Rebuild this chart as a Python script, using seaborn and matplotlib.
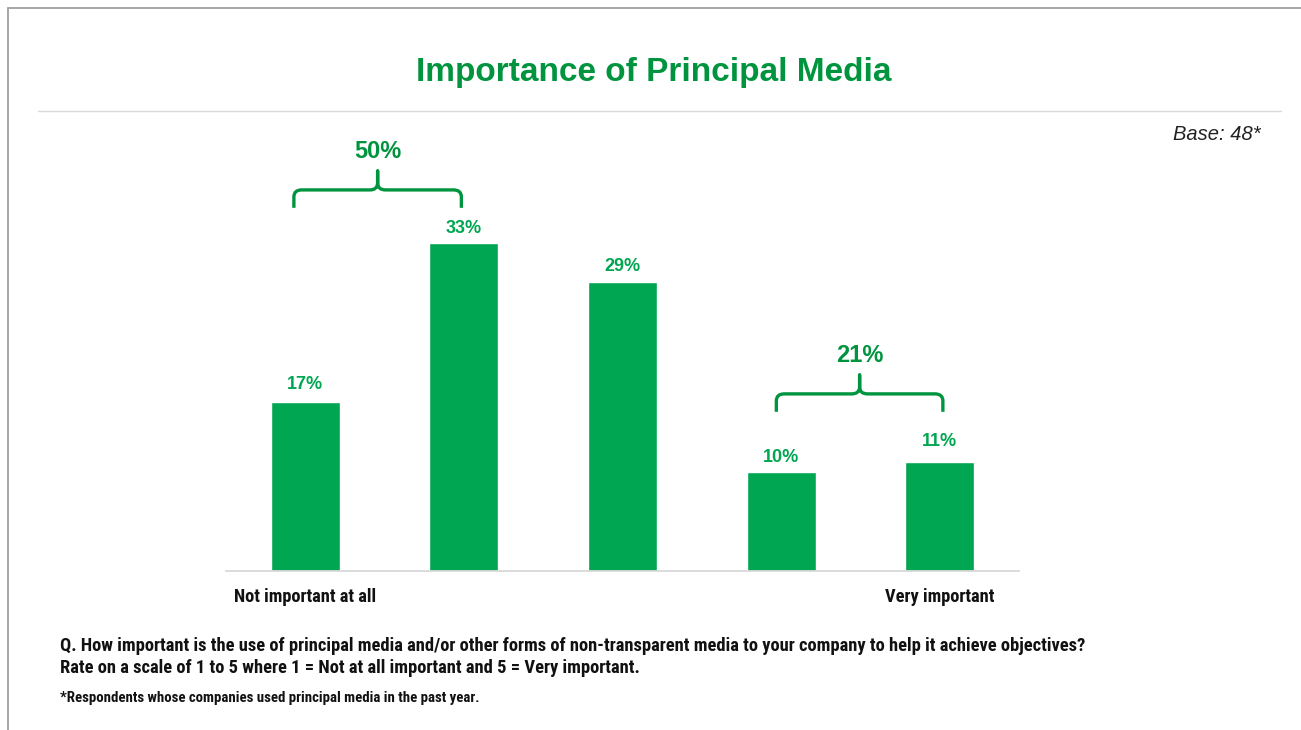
import matplotlib
matplotlib.use("Agg")
import matplotlib.pyplot as plt
from matplotlib import font_manager
from matplotlib.path import Path
from matplotlib.patches import PathPatch
from matplotlib.lines import Line2D
import seaborn as sns
import pandas as pd

# ---- data ----
scale_points = ["1", "2", "3", "4", "5"]
shares = [17, 33, 29, 10, 11]
tick_labels = ["Not important at all", "", "", "", "Very important"]
group_labels = ["50%", "21%"]
group_spans = [(0, 1), (3, 4)]

# ---- styling ----
sns.set_theme(style="white")
available = {f.name for f in font_manager.fontManager.ttflist}
narrow = next((f for f in ["Liberation Sans Narrow", "Roboto Condensed", "Open Sans Condensed",
                           "Liberation Sans"] if f in available), "DejaVu Sans")
plt.rcParams["font.family"] = [narrow, "DejaVu Sans"]
SANS = ["Liberation Sans", "DejaVu Sans"]

BAR_GREEN = "#00A651"
DARK_GREEN = "#00943F"
W, H = 1301, 730

fig = plt.figure(figsize=(W / 100, H / 100), dpi=100)
fig.patch.set_facecolor("white")

# plot area: baseline at y=571px, x from 226px to 1019px
px_per_unit = 9.95
ymax = 45
ax = fig.add_axes([226 / W, (H - 571) / H, 793 / W, ymax * px_per_unit / H])

df = pd.DataFrame({"point": scale_points, "share": shares})
sns.barplot(data=df, x="point", y="share", order=scale_points, color=BAR_GREEN,
            saturation=1, width=0.434, ax=ax)
ax.set_xlim(-0.5, 4.5)
ax.set_ylim(0, ymax)
ax.set_xlabel("")
ax.set_ylabel("")
ax.set_yticks([])
ax.set_xticks(range(len(scale_points)))
ax.set_xticklabels(tick_labels, fontsize=13.2, fontweight="bold", color="#111111")
ax.tick_params(axis="x", length=0, pad=12.5)
for side in ["top", "right", "left"]:
    ax.spines[side].set_visible(False)
ax.spines["bottom"].set_color("#d9d9d9")
ax.spines["bottom"].set_linewidth(1.3)

# value labels above each bar
label_gaps_px = [17, 14, 16, 14, 20]
for i, (v, gap) in enumerate(zip(shares, label_gaps_px)):
    ax.annotate(f"{v}%", xy=(i, v), xytext=(0, gap * 0.72), textcoords="offset points",
                ha="center", va="center", fontsize=13, fontweight="bold", color=BAR_GREEN,
                family=SANS, annotation_clip=False)


def curly_bracket(ax, x0, x1, y, drop, tip, rx=0.05, ry=0.7):
    xm = (x0 + x1) / 2
    verts = [
        (x0, y - drop), (x0, y - ry),
        (x0, y), (x0 + rx, y),
        (xm - rx, y),
        (xm, y), (xm, y + ry),
        (xm, y + tip),
        (xm, y + ry),
        (xm, y), (xm + rx, y),
        (x1 - rx, y),
        (x1, y), (x1, y - ry),
        (x1, y - drop),
    ]
    codes = [Path.MOVETO, Path.LINETO,
             Path.CURVE3, Path.CURVE3,
             Path.LINETO,
             Path.CURVE3, Path.CURVE3,
             Path.LINETO,
             Path.LINETO,
             Path.CURVE3, Path.CURVE3,
             Path.LINETO,
             Path.CURVE3, Path.CURVE3,
             Path.LINETO]
    patch = PathPatch(Path(verts, codes), fill=False, edgecolor=DARK_GREEN, lw=2.4,
                      capstyle="butt", joinstyle="round", clip_on=False)
    ax.add_patch(patch)
    return xm


# bracketed group totals
bracket_levels = [38.3, 17.8]
bracket_ends = [(-0.072, 0.984), (2.97, 4.02)]
for (a, b), lvl, (x0, x1), lab in zip(group_spans, bracket_levels, bracket_ends, group_labels):
    xm = curly_bracket(ax, x0, x1, lvl, 1.8, 1.9)
    ax.text(xm, lvl + 3.9, lab, ha="center", va="center", fontsize=17, fontweight="bold",
            color=DARK_GREEN, family=SANS, clip_on=False)

# frame lines on the left and top edges
fig.add_artist(Line2D([8 / W, 8 / W], [0, 1 - 8 / H], color="#a6a6a6", lw=1.4))
fig.add_artist(Line2D([8 / W, 1], [1 - 8 / H, 1 - 8 / H], color="#a6a6a6", lw=1.4))
# divider under the title
fig.add_artist(Line2D([38 / W, 1281 / W], [1 - 111 / H, 1 - 111 / H], color="#d9d9d9", lw=1.0))

fig.text(654 / W, 1 - 72 / H, "Importance of Principal Media", ha="center", va="center",
         fontsize=24, fontweight="bold", color=DARK_GREEN, family=SANS)
fig.text(1261 / W, 1 - 134 / H, "Base: 48*", ha="right", va="center", fontsize=14.5,
         style="italic", color="#222222", family=SANS)

fig.text(60 / W, 1 - 646 / H,
         "Q. How important is the use of principal media and/or other forms of non-transparent media "
         "to your company to help it achieve objectives?",
         ha="left", va="center", fontsize=13.3, fontweight="bold", color="#111111")
fig.text(60 / W, 1 - 668 / H,
         "Rate on a scale of 1 to 5 where 1 = Not at all important and 5 = Very important.",
         ha="left", va="center", fontsize=13.3, fontweight="bold", color="#111111")
fig.text(60 / W, 1 - 698 / H, "*Respondents whose companies used principal media in the past year.",
         ha="left", va="center", fontsize=10.7, fontweight="bold", color="#111111")

fig.savefig("out.png", dpi=100, facecolor="white")
